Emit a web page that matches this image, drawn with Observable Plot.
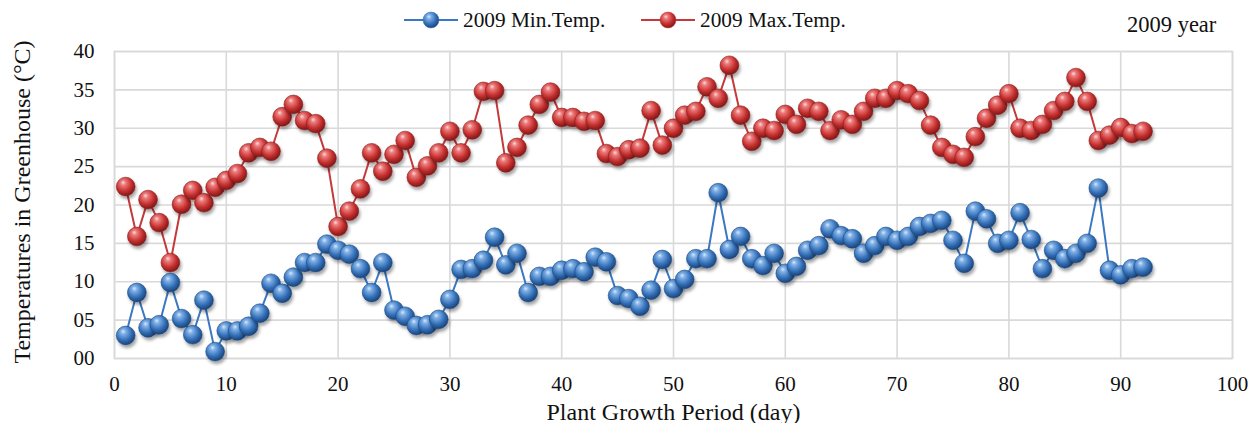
<!DOCTYPE html>
<html>
<head>
<meta charset="utf-8">
<script src="https://cdn.jsdelivr.net/npm/d3@7"></script>
<script src="https://cdn.jsdelivr.net/npm/@observablehq/plot@0.6"></script>
<style>
  html, body { margin: 0; padding: 0; background: #fff; }
  body { width: 1255px; height: 423px; overflow: hidden; font-family: "Liberation Serif", "Times New Roman", serif; }
  #legend { position: relative; height: 40px; width: 1255px; }
  .lg { position: absolute; top: 7px; font-size: 21.3px; line-height: 26px; color: #111; display: flex; align-items: center; }
  .lg svg { margin-right: 5px; }
  #year { position: absolute; left: 1127px; top: 12px; font-size: 22.5px; line-height: 26px; color: #111; }
</style>
</head>
<body>
<div id="legend">
  <div class="lg" id="lgMin" style="left:404px"></div>
  <div class="lg" id="lgMax" style="left:641px"></div>
  <div id="year">2009 year</div>
</div>
<div id="chart"></div>
<script>
// Data
const days = d3.range(1, 93);
const minTemp = [3.0, 8.6, 4.0, 4.4, 9.9, 5.2, 3.1, 7.6, 0.9, 3.6,
  3.6, 4.2, 5.9, 9.8, 8.5, 10.6, 12.5, 12.5, 14.9, 14.1,
  13.6, 11.7, 8.6, 12.5, 6.3, 5.5, 4.3, 4.4, 5.1, 7.7,
  11.6, 11.7, 12.8, 15.8, 12.2, 13.7, 8.6, 10.7, 10.7, 11.5,
  11.7, 11.3, 13.2, 12.6, 8.2, 7.8, 6.8, 8.9, 12.9, 9.1,
  10.3, 13.0, 13.0, 21.6, 14.2, 15.9, 13.0, 12.1, 13.7, 11.1,
  12.0, 14.1, 14.7, 16.9, 16.0, 15.6, 13.7, 14.7, 15.9, 15.4,
  15.9, 17.2, 17.6, 18.0, 15.4, 12.4, 19.2, 18.2, 15.0, 15.4,
  19.0, 15.5, 11.7, 14.1, 13.0, 13.7, 15.0, 22.2, 11.5, 10.9,
  11.7, 11.9];
const maxTemp = [22.4, 15.9, 20.7, 17.7, 12.5, 20.1, 21.9, 20.3, 22.3, 23.2,
  24.1, 26.8, 27.5, 27.0, 31.5, 33.1, 31.0, 30.6, 26.1, 17.2,
  19.2, 22.1, 26.8, 24.4, 26.6, 28.4, 23.6, 25.1, 26.8, 29.6,
  26.8, 29.8, 34.8, 34.9, 25.5, 27.5, 30.4, 33.1, 34.7, 31.4,
  31.4, 30.9, 31.0, 26.7, 26.3, 27.2, 27.4, 32.3, 27.8, 30.0,
  31.7, 32.2, 35.4, 33.9, 38.2, 31.7, 28.3, 30.0, 29.7, 31.8,
  30.5, 32.6, 32.2, 29.7, 31.1, 30.5, 32.2, 33.9, 33.9, 34.9,
  34.5, 33.6, 30.4, 27.5, 26.6, 26.2, 28.9, 31.3, 33.0, 34.5,
  30.0, 29.7, 30.5, 32.3, 33.5, 36.6, 33.5, 28.4, 29.1, 30.1,
  29.3, 29.6];
const xTicks = [0, 10, 20, 30, 40, 50, 60, 70, 80, 90, 100];
const yTicks = [0, 5, 10, 15, 20, 25, 30, 35, 40];
const seriesNames = ["2009 Min.Temp.", "2009 Max.Temp."];

const minData = days.map((d, i) => ({day: d, t: minTemp[i]}));
const maxData = days.map((d, i) => ({day: d, t: maxTemp[i]}));

const blue = "#3b78c1", red = "#c43a3a";
const grid = "#d9d9d9";

const defs = `
<defs>
  <radialGradient id="gBlue" cx="42%" cy="38%" r="62%" fx="36%" fy="28%">
    <stop offset="0%" stop-color="#d8e8fb"/>
    <stop offset="22%" stop-color="#7fb0e6"/>
    <stop offset="65%" stop-color="#3571b9"/>
    <stop offset="100%" stop-color="#1b4378"/>
  </radialGradient>
  <radialGradient id="gRed" cx="42%" cy="38%" r="62%" fx="36%" fy="28%">
    <stop offset="0%" stop-color="#fbdada"/>
    <stop offset="22%" stop-color="#ec7b7b"/>
    <stop offset="65%" stop-color="#c6302f"/>
    <stop offset="100%" stop-color="#7e1818"/>
  </radialGradient>
  <filter id="shadow" x="-50%" y="-50%" width="200%" height="200%">
    <feDropShadow dx="1.5" dy="3" stdDeviation="1.8" flood-color="#000" flood-opacity="0.35"/>
  </filter>
</defs>`;

const chart = Plot.plot({
  width: 1255,
  height: 383,
  marginTop: 11,
  marginBottom: 65,
  marginLeft: 114,
  marginRight: 23,
  style: {fontFamily: "'Liberation Serif', 'Times New Roman', serif", fontSize: "21px", color: "#111", background: "#fff", overflow: "visible"},
  x: {domain: [0, 100], ticks: xTicks, tickSize: 0, tickPadding: 18, label: null},
  y: {domain: [0, 40], ticks: yTicks, tickSize: 0, tickPadding: 20, tickFormat: d3.format("02d"), label: null},
  marks: [
    Plot.gridX(xTicks, {stroke: grid, strokeOpacity: 1, strokeWidth: 1.6}),
    Plot.gridY(yTicks, {stroke: grid, strokeOpacity: 1, strokeWidth: 1.6}),
    Plot.frame({stroke: grid, strokeWidth: 1.6}),
    Plot.axisX({ticks: xTicks, tickSize: 0, tickPadding: 18, fontSize: 21}),
    Plot.axisY({ticks: yTicks, tickSize: 0, tickPadding: 20, tickFormat: d3.format("02d"), fontSize: 21}),
    Plot.text(["Plant Growth Period (day)"], {frameAnchor: "bottom", dy: 61, fontSize: 24, fill: "#111"}),
    Plot.text(["Temperatures in Greenhouse (°C)"], {frameAnchor: "left", textAnchor: "middle", dx: -92, dy: -3, rotate: -90, fontSize: 24, fill: "#111"}),
    Plot.line(maxData, {x: "day", y: "t", stroke: red, strokeWidth: 2}),
    Plot.line(minData, {x: "day", y: "t", stroke: blue, strokeWidth: 2}),
    Plot.dot(maxData, {x: "day", y: "t", r: 9.4, fill: "url(#gRed)", stroke: "#8a2020", strokeWidth: 0.6}),
    Plot.dot(minData, {x: "day", y: "t", r: 9.4, fill: "url(#gBlue)", stroke: "#1f4c85", strokeWidth: 0.6})
  ]
});

d3.select(chart).insert(() => new DOMParser().parseFromString(`<svg xmlns="http://www.w3.org/2000/svg">${defs}</svg>`, "image/svg+xml").documentElement.firstElementChild, ":first-child");
d3.select(chart).selectAll("circle").attr("filter", "url(#shadow)");
document.getElementById("chart").appendChild(chart);

function legendIcon(color, grad) {
  return `<svg width="54" height="20" viewBox="0 0 54 20">
    <line x1="0" y1="10" x2="54" y2="10" stroke="${color}" stroke-width="2"/>
    <circle cx="27" cy="10" r="8" fill="url(#${grad})" stroke="${color}" stroke-width="0.5"/>
  </svg>`;
}
document.getElementById("lgMin").innerHTML = legendIcon(blue, "gBlue") + `<span>${seriesNames[0]}</span>`;
document.getElementById("lgMax").innerHTML = legendIcon(red, "gRed") + `<span>${seriesNames[1]}</span>`;
</script>
</body>
</html>
